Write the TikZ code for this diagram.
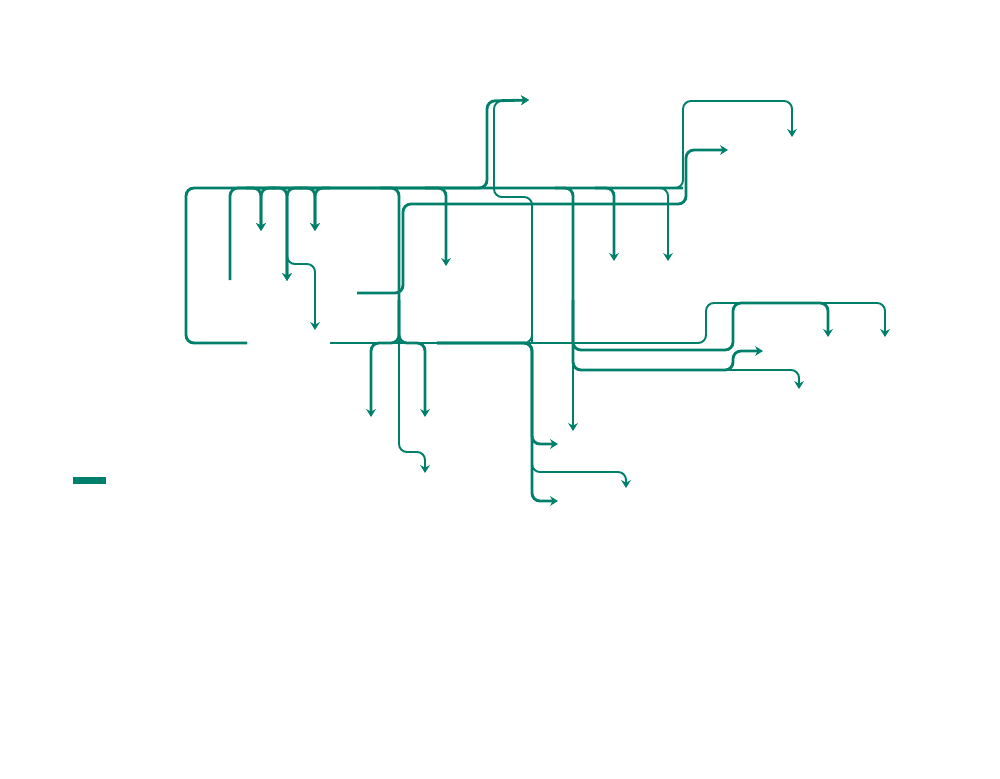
\documentclass[tikz,border=0pt]{standalone}
\usetikzlibrary{arrows.meta}
\definecolor{flowgreen}{RGB}{0,128,106}
\tikzset{
  flow/.style={draw=flowgreen, line width=1.6pt, rounded corners=4.5pt},
  thinflow/.style={flow, line width=1.1pt},
  arr/.style={-{Stealth[length=4.5pt,width=5.5pt]}}
}

\begin{document}
\begin{tikzpicture}[x=0.02cm, y=-0.02cm]
\useasboundingbox (0,0) rectangle (1000,778);
\coordinate (v0) at (247,343);
\coordinate (v1) at (792,137);
\coordinate (v2) at (230,280);
\coordinate (v3) at (529,100);
\coordinate (v4) at (261,231);
\coordinate (v5) at (287,281);
\coordinate (v6) at (315,330);
\coordinate (v7) at (315,231);
\coordinate (v8) at (371,417);
\coordinate (v9) at (425,417);
\coordinate (v10) at (425,473);
\coordinate (v11) at (446,266);
\coordinate (v12) at (357,293);
\coordinate (v13) at (728,150);
\coordinate (v14) at (330,343);
\coordinate (v15) at (885,337);
\coordinate (v16) at (437,343);
\coordinate (v17) at (558,444);
\coordinate (v18) at (626,488);
\coordinate (v19) at (558,501);
\coordinate (v20) at (828,337);
\coordinate (v21) at (763,351);
\coordinate (v22) at (799,389);
\coordinate (v23) at (573,431);
\coordinate (v24) at (614,261);
\coordinate (v25) at (668,261);
\node[fill=flowgreen, minimum width=0.66cm, minimum height=0.14cm, inner sep=0pt] (key) at (89.5,480.5) {};
\draw[thinflow,arr] (v0) -- (186,343) -- (186,188) -- (683,188) -- (683,101) -- (792,101) -- (v1);
\draw[flow] (v0) -- (186,343) -- (186,188) -- (683,188);
\draw[flow,arr] (v2) -- (230,188) -- (487,188) -- (487,101) -- (v3);
\draw[flow,arr] (246,188) -- (261,188) -- (v4);
\draw[flow,arr] (276,188) -- (261,188) -- (v4);
\draw[flow,arr] (272,188) -- (287,188) -- (v5);
\draw[flow,arr] (302,188) -- (287,188) -- (v5);
\draw[thinflow,arr] (287,220) -- (287,264) -- (315,264) -- (v6);
\draw[flow,arr] (300,188) -- (315,188) -- (v7);
\draw[flow,arr] (330,188) -- (315,188) -- (v7);
\draw[flow,arr] (380,188) -- (399,188) -- (399,343) -- (371,343) -- (v8);
\draw[flow,arr] (399,300) -- (399,343) -- (425,343) -- (v9);
\draw[thinflow,arr] (399,300) -- (399,452) -- (425,452) -- (v10);
\draw[flow,arr] (425,188) -- (446,188) -- (v11);
\draw[flow,arr] (v12) -- (403,293) -- (403,204) -- (686,204) -- (686,150) -- (v13);
\draw[thinflow,arr] (v14) -- (706,343) -- (706,303) -- (885,303) -- (v15);
\draw[thinflow,arr] (v16) -- (532,343) -- (532,197) -- (494,197) -- (494,101) -- (v3);
\draw[flow] (532,343) -- (532,205);
\draw[flow,arr] (v16) -- (532,343) -- (532,444) -- (v17);
\draw[thinflow,arr] (v16) -- (532,343) -- (532,472) -- (626,472) -- (v18);
\draw[flow,arr] (v16) -- (532,343) -- (532,501) -- (v19);
\draw[flow,arr] (555,188) -- (573,188) -- (573,350) -- (733,350) -- (733,303) -- (828,303) -- (v20);
\draw[flow,arr] (573,300) -- (573,370) -- (733,370) -- (733,351) -- (v21);
\draw[thinflow,arr] (573,300) -- (573,370) -- (799,370) -- (v22);
\draw[flow,arr] (573,300) -- (v23);
\draw[flow,arr] (595,188) -- (614,188) -- (v24);
\draw[thinflow,arr] (650,188) -- (668,188) -- (v25);
\end{tikzpicture}
\end{document}
